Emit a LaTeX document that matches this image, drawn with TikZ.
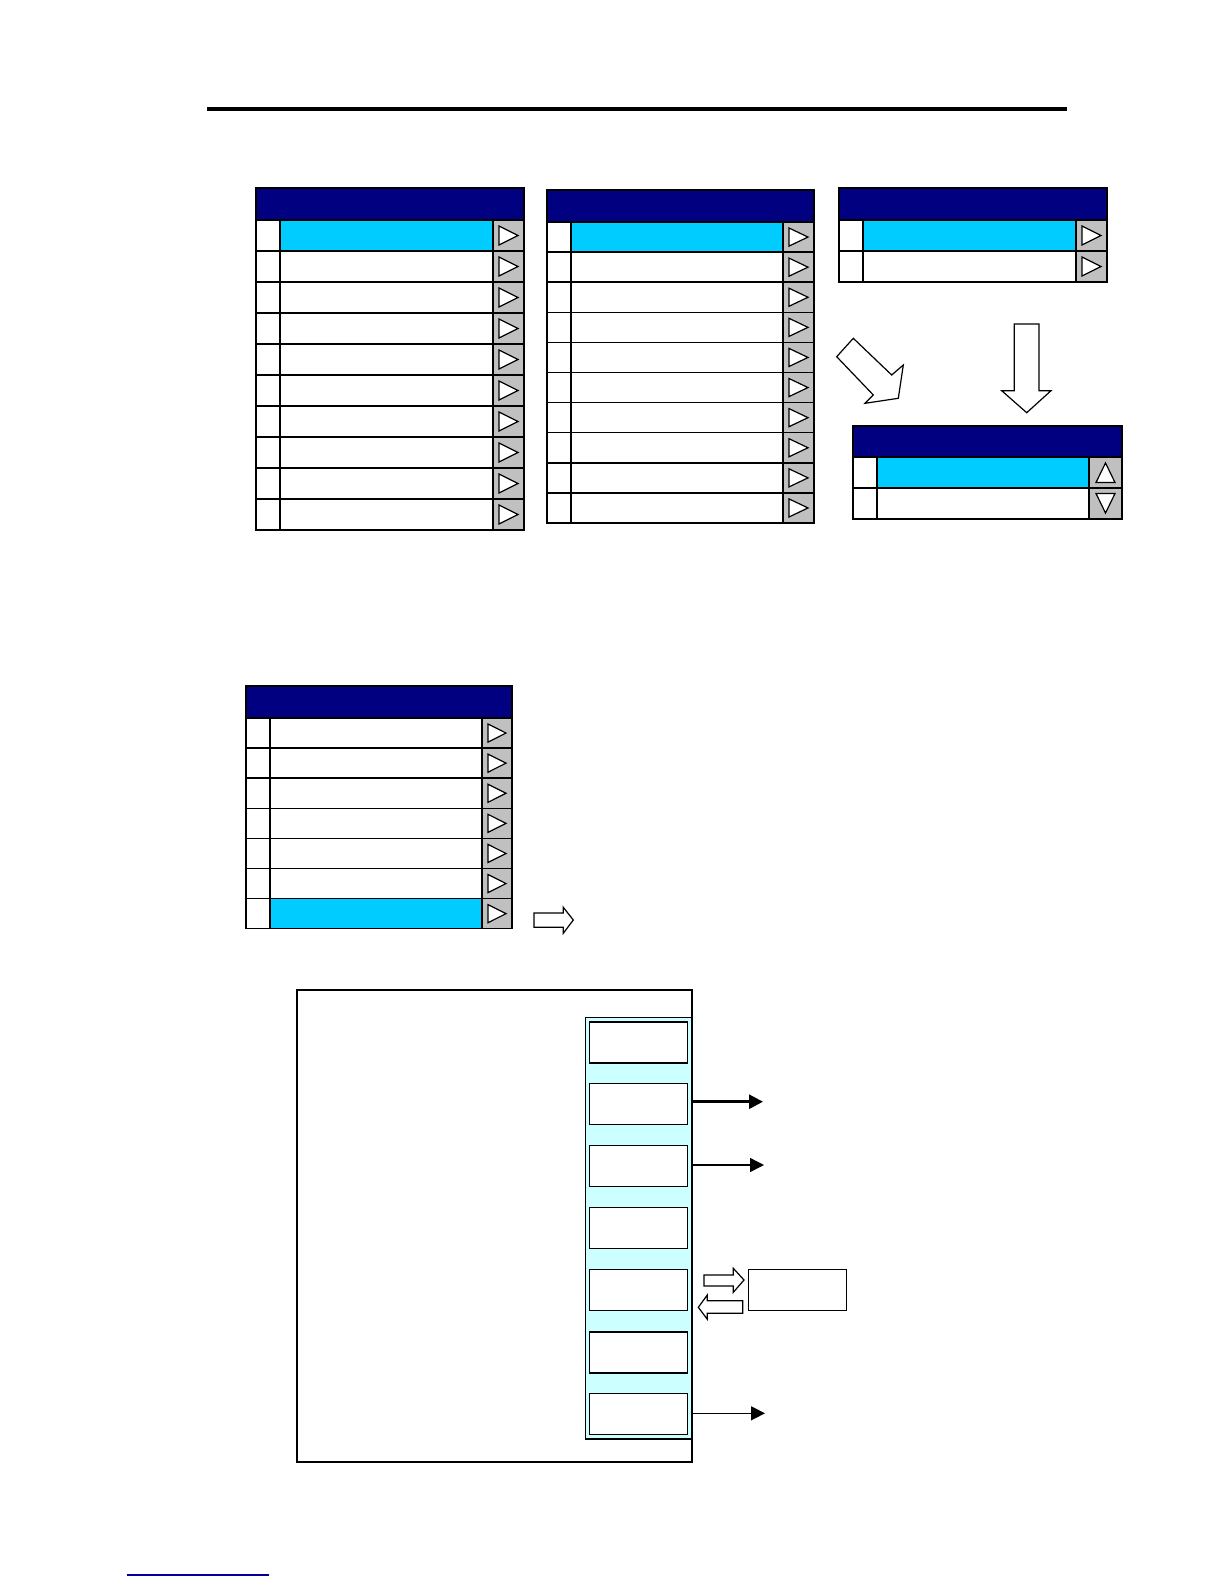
\documentclass[tikz,border=0pt]{standalone}
\usetikzlibrary{arrows.meta,calc}
\definecolor{navyc}{HTML}{000080}
\definecolor{hlc}{HTML}{00CCFF}
\definecolor{btnc}{HTML}{C0C0C0}
\definecolor{colc}{HTML}{CCFFFF}
\definecolor{linkc}{HTML}{000099}
\tikzset{
  gridline/.style={draw=black,line width=0.75pt},
  tri/.style={draw=black,fill=white,line width=0.6pt,line join=miter},
  blockarrow/.style={draw=black,fill=white,line width=0.6pt,line join=miter},
  panelbox/.style={draw=black,fill=white,line width=0.8pt,inner sep=0pt,outer sep=0pt,
    minimum width=49pt,minimum height=20.5pt,anchor=north west},
  conn/.style={line width=0.7pt,-{Triangle[length=7pt,width=7pt]}},
  connthick/.style={line width=1.4pt,-{Triangle[length=7pt,width=7pt]}}
}
% #1 x0, #2 xl, #3 xb, #4 x2, #5 header top, #6 rows top, #7 row height, #8 rows, #9 highlighted row
\newcommand\menutab[9]{%
  \fill[navyc] (#1,#5) rectangle (#4,#6);
  \draw[gridline] (#1,#5) rectangle (#4,#6);
  \foreach \i in {1,...,#8}{
    \pgfmathsetmacro\ya{#6+(\i-1)*#7}
    \pgfmathsetmacro\yb{#6+\i*#7}
    \pgfmathsetmacro\ym{(\ya+\yb)/2}
    \ifnum\i=#9\relax \fill[hlc] (#2,\ya) rectangle (#3,\yb);\fi
    \fill[btnc] (#3,\ya) rectangle (#4,\yb);
    \draw[gridline] (#1,\ya) rectangle (#4,\yb);
    \draw[gridline] (#2,\ya) -- (#2,\yb) (#3,\ya) -- (#3,\yb);
    \draw[tri] ({#3+6},{\ya+6}) -- ({#4-6},\ym) -- ({#3+6},{\yb-6}) -- cycle;
  }
}
\begin{document}
\begin{tikzpicture}[x=0.5pt,y=-0.5pt]
\fill[white] (0,0) rectangle (1224,1584);
\useasboundingbox (0,0) rectangle (1224,1584);

% top rule
\draw[line width=1.6pt] (207,109) -- (1067,109);

% tables
\menutab{256}{280}{493}{524}{188}{220}{31}{10}{1}
\menutab{547}{571}{783}{814}{190}{222}{30.1}{10}{1}
\menutab{839}{863}{1076}{1107}{188}{220}{31}{2}{1}
\menutab{246}{270}{482}{512}{686}{718}{30.1}{7}{7}

% table with up/down buttons
\fill[navyc] (853,426) rectangle (1122,457);
\draw[gridline] (853,426) rectangle (1122,457);
\fill[hlc] (877,457) rectangle (1089,488);
\fill[btnc] (1089,457) rectangle (1122,519);
\draw[gridline] (853,457) rectangle (1122,488) (853,488) rectangle (1122,519);
\draw[gridline] (877,457) -- (877,519) (1089,457) -- (1089,519);
\draw[tri] (1096,482.5) -- (1105.5,463) -- (1115,482.5) -- cycle;
\draw[tri] (1096,493.5) -- (1115,493.5) -- (1105.5,513) -- cycle;

% block arrows between tables
\draw[blockarrow] (836.7,356.7) -- (853.3,338.3) -- (891.7,375) -- (903.3,365) -- (898.3,398.3) -- (865,403.3) -- (873.3,395) -- cycle;
\draw[blockarrow] (1014.3,324) -- (1039,324) -- (1039,390.7) -- (1051,390.7) -- (1026.7,412.7) -- (1001.7,390.7) -- (1014.3,390.7) -- cycle;
\draw[blockarrow] (534,913) -- (563.3,913) -- (563.3,907.3) -- (573.3,920) -- (563.3,933.3) -- (563.3,927.3) -- (534,927.3) -- cycle;

% bottom panel
\draw[line width=1pt] (297,990) rectangle (691.7,1461.7);
\fill[colc] (585.7,1017.3) rectangle (691.7,1439);
\draw[line width=0.7pt] (585.7,1017.3) rectangle (691.7,1439);
\node[panelbox] (b1) at (589.3,1021.7) {};
\node[panelbox] (b2) at (589.3,1083.3) {};
\node[panelbox] (b3) at (589.3,1145.3) {};
\node[panelbox] (b4) at (589.3,1207.3) {};
\node[panelbox] (b5) at (589.3,1269.3) {};
\node[panelbox] (b6) at (589.3,1331.7) {};
\node[panelbox] (b7) at (589.3,1393.3) {};
\node[panelbox,line width=0.7pt] (side) at (748.7,1269.3) {};

\coordinate (s2) at (691.7,1101.7);
\coordinate (e2) at (763,1101.7);
\coordinate (s3) at (691.7,1165);
\coordinate (e3) at (764,1165);
\coordinate (s7) at (691.7,1413.3);
\coordinate (e7) at (765,1413.3);
\draw[connthick] (s2) -- (e2);
\draw[conn] (s3) -- (e3);
\draw[conn] (s7) -- (e7);

\draw[blockarrow] (704,1275) -- (733.3,1275) -- (733.3,1268.3) -- (744,1280) -- (733.3,1292.3) -- (733.3,1286) -- (704,1286) -- cycle;
\draw[blockarrow] (742.7,1300.7) -- (707.3,1300.7) -- (707.3,1295) -- (698.3,1307.3) -- (707.3,1319.3) -- (707.3,1313.3) -- (742.7,1313.3) -- cycle;

% bottom link line
\draw[linkc,line width=0.6pt] (127,1575) -- (269,1575);
\end{tikzpicture}
\end{document}
